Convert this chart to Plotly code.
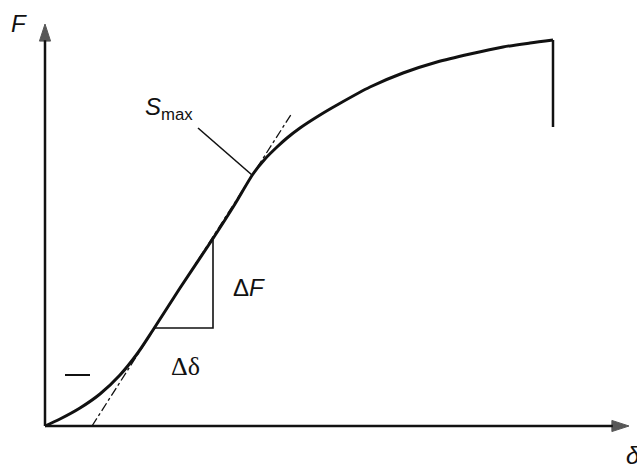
import plotly.graph_objects as go

# force-displacement curve (arbitrary units)
delta = [0, 3, 7, 11, 15, 18.4, 21.6, 27, 33.4, 38, 41.6, 44, 46.4, 48.4, 51, 55, 58.4,
         65, 71.6, 78.4, 85, 91.6, 97, 101.6]
force = [0, 1.75, 4.5, 8, 12.75, 18, 24, 34.5, 46.5, 55.5, 63, 66.75, 69.75, 72, 74.5, 77.75, 80.25,
         84.75, 88.25, 91, 93, 94.75, 95.75, 96.5]
# sudden drop at fracture
drop_delta = [101.6, 101.6]
drop_force = [96.5, 74.75]

# tangent at the steepest point
tan_delta = [9.4, 49.4]
tan_force = [0, 78.25]

# slope triangle
tri_delta = [21.6, 33.6, 33.6]
tri_force = [24.5, 24.5, 46.5]

# pointer to S_max
ptr_delta = [30.6, 41.4]
ptr_force = [74.5, 62.75]

# small dash near the toe
dash_delta = [4, 9]
dash_force = [12.75, 12.75]

axis_end_x = 116.8
axis_end_y = 100.5

ink = "#111111"
sans = "Liberation Sans"

fig = go.Figure()
fig.add_trace(go.Scatter(x=delta, y=force, mode="lines",
                         line=dict(color=ink, width=3, shape="spline", smoothing=0.8)))
fig.add_trace(go.Scatter(x=drop_delta, y=drop_force, mode="lines",
                         line=dict(color=ink, width=2.5)))
fig.add_trace(go.Scatter(x=tan_delta, y=tan_force, mode="lines",
                         line=dict(color=ink, width=1.3, dash="dashdot")))
fig.add_trace(go.Scatter(x=tri_delta, y=tri_force, mode="lines",
                         line=dict(color=ink, width=1.6)))
fig.add_trace(go.Scatter(x=ptr_delta, y=ptr_force, mode="lines",
                         line=dict(color=ink, width=1.6)))
fig.add_trace(go.Scatter(x=dash_delta, y=dash_force, mode="lines",
                         line=dict(color=ink, width=2)))

# axes with arrowheads
arrow = dict(symbol="arrow", size=[0, 18], color=ink, angleref="previous",
             line=dict(color=ink, width=1))
fig.add_trace(go.Scatter(x=[0, 0], y=[0, axis_end_y], mode="lines+markers",
                         line=dict(color=ink, width=2.5), marker=arrow))
fig.add_trace(go.Scatter(x=[0, axis_end_x], y=[0, 0], mode="lines+markers",
                         line=dict(color=ink, width=2.5), marker=arrow))

fig.add_annotation(x=-5.3, y=100.75, text="<i>F</i>", showarrow=False,
                   font=dict(family=sans, size=24, color=ink))
fig.add_annotation(x=40.8, y=34.75, text="Δ<i>F</i>", showarrow=False,
                   font=dict(family=sans, size=24, color=ink))
fig.add_annotation(x=28, y=15, text="Δδ", showarrow=False,
                   font=dict(family="Liberation Serif", size=26, color=ink))
fig.add_annotation(x=19.6, y=79.5, text="<i>S</i><sub>max</sub>", showarrow=False,
                   xanchor="left", font=dict(family=sans, size=24, color=ink))
fig.add_annotation(x=115.8, y=-3.5, text="<i>δ</i>", showarrow=False,
                   xanchor="left", yanchor="top",
                   font=dict(family=sans, size=24, color=ink))

fig.update_layout(
    width=637, height=465,
    margin=dict(l=0, r=0, t=0, b=0),
    paper_bgcolor="white", plot_bgcolor="white",
    showlegend=False,
    xaxis=dict(range=[-9, 118.4], visible=False),
    yaxis=dict(range=[-9.75, 106.5], visible=False),
)

fig.write_html("out.html", config={"displayModeBar": False},
               post_script="document.body.style.margin='0';")
